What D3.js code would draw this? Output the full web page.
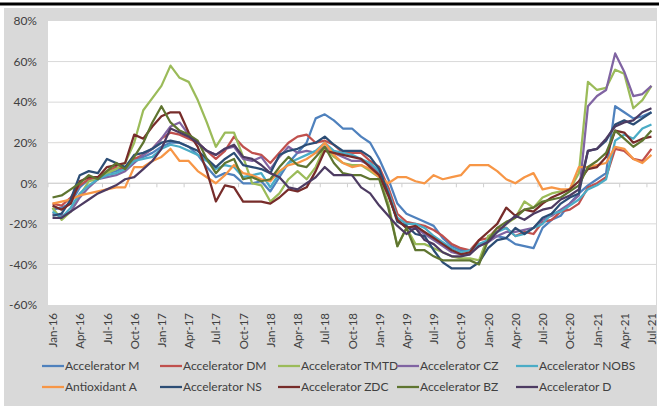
<!DOCTYPE html>
<html>
<head>
<meta charset="utf-8">
<script src="https://cdn.jsdelivr.net/npm/d3@7"></script>
<style>
  html, body { margin: 0; padding: 0; background: #ffffff; }
  svg { display: block; }
  text { font-family: Lato, "Open Sans", sans-serif; fill: #404040; }
</style>
</head>
<body>
<svg id="chart" width="659" height="406"></svg>
<script>
// Monthly categories, Jan-16 .. Jul-21
const categories = [
  "Jan-16","Feb-16","Mar-16","Apr-16","May-16","Jun-16","Jul-16","Aug-16","Sep-16","Oct-16","Nov-16","Dec-16",
  "Jan-17","Feb-17","Mar-17","Apr-17","May-17","Jun-17","Jul-17","Aug-17","Sep-17","Oct-17","Nov-17","Dec-17",
  "Jan-18","Feb-18","Mar-18","Apr-18","May-18","Jun-18","Jul-18","Aug-18","Sep-18","Oct-18","Nov-18","Dec-18",
  "Jan-19","Feb-19","Mar-19","Apr-19","May-19","Jun-19","Jul-19","Aug-19","Sep-19","Oct-19","Nov-19","Dec-19",
  "Jan-20","Feb-20","Mar-20","Apr-20","May-20","Jun-20","Jul-20","Aug-20","Sep-20","Oct-20","Nov-20","Dec-20",
  "Jan-21","Feb-21","Mar-21","Apr-21","May-21","Jun-21","Jul-21"
];

// Labels shown on the horizontal axis (quarterly)
const tickLabels = [
  "Jan-16","Apr-16","Jul-16","Oct-16","Jan-17","Apr-17","Jul-17","Oct-17",
  "Jan-18","Apr-18","Jul-18","Oct-18","Jan-19","Apr-19","Jul-19","Oct-19",
  "Jan-20","Apr-20","Jul-20","Oct-20","Jan-21","Apr-21","Jul-21"
];

const yTicks = [80, 60, 40, 20, 0, -20, -40, -60];

// Year-on-year change, %
const accM = [
  -13,-12,-10,-2,2,3,5,6,8,12,13,15,
  18,20,20,18,14,8,3,5,4,0,0,1,
  -4,3,10,15,20,32,34,31,27,27,23,20,
  12,2,-10,-15,-17,-19,-21,-27,-31,-33,-33,-31,
  -28,-26,-27,-30,-31,-32,-22,-18,-16,-10,-5,-1,
  2,5,38,35,32,33,35
];
const accDM = [
  -10,-11,-7,-1,2,3,6,8,7,12,14,17,
  22,25,24,22,20,16,12,16,23,18,15,14,
  10,15,20,23,24,20,21,19,15,15,15,11,
  8,-2,-15,-19,-20,-21,-23,-26,-30,-32,-33,-28,
  -27,-22,-22,-26,-24,-25,-19,-18,-14,-13,-10,-2,
  0,3,17,16,12,11,17
];
const accTMTD = [
  -12,-18,-14,-6,1,2,5,7,10,20,36,42,
  48,58,52,50,41,30,18,25,25,13,0,-1,
  -9,-5,2,6,2,8,18,13,10,9,9,6,
  3,-10,-31,-22,-30,-30,-32,-34,-36,-37,-37,-38,
  -26,-24,-20,-17,-9,-12,-7,-5,-4,-3,5,50,
  46,47,56,54,37,41,48
];
const accCZ = [
  -15,-16,-14,-7,-2,2,3,4,6,10,14,17,
  22,28,30,24,20,16,14,17,18,12,11,13,
  7,13,18,15,16,15,18,15,13,11,11,9,
  5,-6,-18,-22,-22,-25,-28,-31,-34,-35,-35,-30,
  -29,-26,-24,-24,-23,-22,-18,-16,-13,-10,-6,38,
  43,46,64,55,43,44,48
];
const accNOBS = [
  -14,-17,-12,-5,-1,2,4,5,7,11,12,13,
  17,19,18,16,14,11,7,9,8,3,4,5,
  -2,5,10,12,14,16,20,16,15,14,12,10,
  6,-4,-17,-20,-20,-22,-26,-29,-32,-34,-33,-30,
  -28,-24,-22,-26,-25,-22,-20,-15,-14,-11,-8,-3,
  -1,2,21,24,22,27,29
];
const antiA = [
  -10,-9,-8,-6,-5,-4,-3,-2,-2,8,8,11,
  13,17,11,11,6,3,0,4,9,5,4,2,
  1,6,9,10,12,15,20,14,10,8,9,7,
  3,0,3,3,1,0,4,2,3,4,9,9,
  9,6,2,0,3,5,-3,-2,-3,-3,8,8,
  9,10,18,17,12,10,14
];
const accNS = [
  -16,-15,-8,4,6,5,12,10,8,14,15,17,
  20,21,20,18,16,12,8,12,15,9,8,7,
  5,14,16,17,19,20,23,19,16,16,16,13,
  7,-5,-19,-21,-25,-26,-33,-39,-42,-42,-42,-39,
  -32,-28,-27,-22,-25,-22,-17,-15,-10,-7,-5,16,
  17,21,29,31,29,32,35
];
const accZDC = [
  -11,-13,-10,1,3,3,8,9,10,24,22,28,
  33,35,35,25,18,6,-9,-1,-2,-9,-9,-9,
  -10,-7,-3,-4,-2,6,16,15,14,13,12,8,
  4,-6,-18,-22,-21,-24,-27,-30,-33,-35,-34,-28,
  -24,-20,-12,-16,-13,-14,-10,-7,-5,-3,1,7,
  8,13,26,25,20,22,23
];
const accBZ = [
  -7,-6,-3,0,4,2,6,10,7,13,20,30,
  38,30,26,24,21,12,5,10,12,2,3,1,
  2,8,13,9,8,13,18,10,5,4,4,2,
  2,-12,-31,-22,-33,-33,-36,-38,-38,-38,-38,-40,
  -28,-22,-19,-17,-13,-12,-9,-8,-7,-4,-1,8,
  11,15,26,22,18,21,26
];
const accD = [
  -17,-17,-14,-11,-8,-5,-3,-1,2,3,7,11,
  17,27,25,23,20,16,14,17,19,13,12,9,
  5,3,-2,-3,0,3,8,4,4,4,-2,-5,
  -11,-16,-21,-25,-22,-28,-30,-34,-36,-36,-35,-31,
  -29,-24,-20,-16,-18,-15,-13,-12,-8,-6,-3,16,
  17,22,28,30,31,35,37
];

const seriesNames = [
  "Accelerator M","Accelerator DM","Accelerator TMTD","Accelerator CZ","Accelerator NOBS",
  "Antioxidant A","Accelerator NS","Accelerator ZDC","Accelerator BZ","Accelerator D"
];
const seriesValues = [accM, accDM, accTMTD, accCZ, accNOBS, antiA, accNS, accZDC, accBZ, accD];
const seriesColors = [
  "#4F81BD","#C0504D","#9BBB59","#8064A2","#4BACC6",
  "#F79646","#2C4D75","#772C2A","#5F7530","#4D3B62"
];

const series = seriesNames.map((name, k) => ({
  name, color: seriesColors[k], values: seriesValues[k]
}));

const svg = d3.select("#chart");

// frame: top rule and grey chart area
svg.append("rect").attr("x", 0).attr("y", 2.5).attr("width", 659).attr("height", 3).attr("fill", "#000");
svg.append("rect").attr("x", 4).attr("y", 8).attr("width", 653).attr("height", 398).attr("fill", "#d9d9d9");

const plot = { left: 48, right: 656, top: 21, bottom: 305 };
svg.append("rect")
  .attr("x", plot.left).attr("y", plot.top)
  .attr("width", plot.right - plot.left).attr("height", plot.bottom - plot.top)
  .attr("fill", "#ffffff");

const x = d3.scaleBand().domain(d3.range(categories.length)).range([plot.left, plot.right]).padding(0);
const cx = i => x(i) + x.bandwidth() / 2;
const y = d3.scaleLinear().domain([-60, 80]).range([plot.bottom, plot.top]);

// horizontal gridlines
svg.append("g").selectAll("line").data(yTicks.filter(t => t > -60 && t < 80)).join("line")
  .attr("x1", plot.left).attr("x2", plot.right)
  .attr("y1", d => y(d)).attr("y2", d => y(d))
  .attr("stroke", "#d9d9d9").attr("stroke-width", 1);

// value axis labels
const yAxis = d3.axisLeft(y).tickValues(yTicks).tickFormat(d => d + "%").tickSize(0).tickPadding(11);
const gy = svg.append("g").attr("transform", `translate(${plot.left},0)`).call(yAxis);
gy.select(".domain").remove();
gy.selectAll("text").attr("font-size", 12).attr("fill", "#404040").style("font-family", "Lato, sans-serif");

// category axis through zero, with quarterly tick marks
const y0 = y(0);
svg.append("line").attr("x1", plot.left).attr("x2", plot.right).attr("y1", y0).attr("y2", y0)
  .attr("stroke", "#d0d0d0").attr("stroke-width", 1);
const tickIdx = d3.range(0, categories.length + 1, 3);
svg.append("g").selectAll("line").data(tickIdx).join("line")
  .attr("x1", i => (i < categories.length ? x(i) : plot.right))
  .attr("x2", i => (i < categories.length ? x(i) : plot.right))
  .attr("y1", y0).attr("y2", y0 + 4)
  .attr("stroke", "#d0d0d0").attr("stroke-width", 1);

// rotated category labels under the plot
svg.append("g").selectAll("text").data(tickLabels).join("text")
  .attr("transform", d => `translate(${cx(categories.indexOf(d)) + 0.5},${plot.bottom + 8}) rotate(-90)`)
  .attr("text-anchor", "end")
  .attr("dy", "0.35em")
  .attr("font-size", 11.5)
  .text(d => d);

// series lines
const line = d3.line().x((d, i) => cx(i)).y(d => y(d));
svg.append("g").selectAll("path").data(series).join("path")
  .attr("d", s => line(s.values))
  .attr("fill", "none")
  .attr("stroke", s => s.color)
  .attr("stroke-width", 2.25)
  .attr("stroke-linejoin", "round");

// legend: two rows of five
const legendX = [42, 160, 278, 397, 516];
const legendY = [366, 387];
const lg = svg.append("g").selectAll("g").data(series).join("g")
  .attr("transform", (s, k) => `translate(${legendX[k % 5]},${legendY[Math.floor(k / 5)]})`);
lg.append("line").attr("x1", 0).attr("x2", 22).attr("y1", 0).attr("y2", 0)
  .attr("stroke", s => s.color).attr("stroke-width", 2.25);
lg.append("text").attr("x", 23).attr("dy", "0.35em").attr("font-size", 12).text(s => s.name);
</script>
</body>
</html>
